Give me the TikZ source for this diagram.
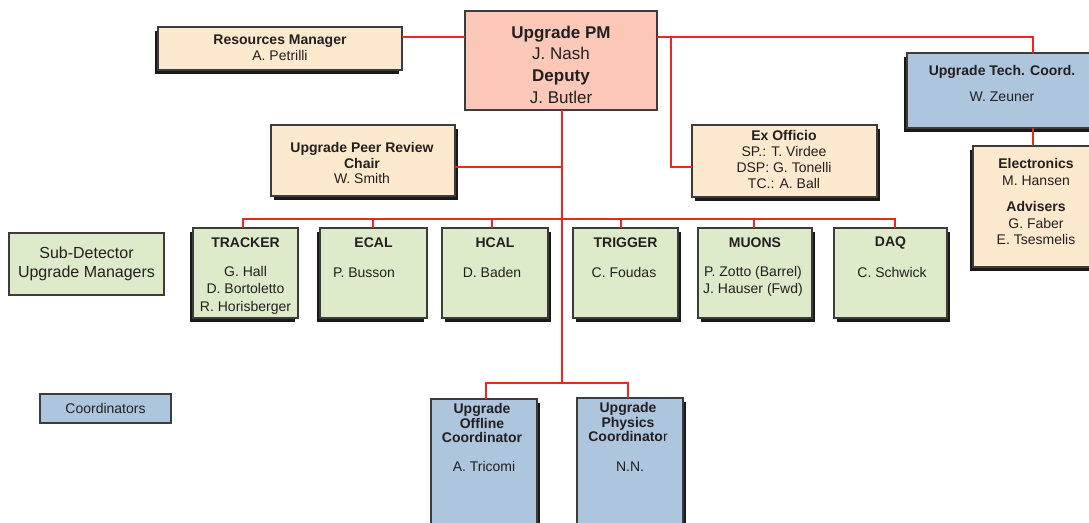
\documentclass[tikz,border=0pt]{standalone}
\usepackage{fontspec}
\setmainfont{Liberation Sans}
\usetikzlibrary{shadows}
\definecolor{pmfill}{RGB}{252,200,184}
\definecolor{peach}{RGB}{253,234,206}
\definecolor{blu}{RGB}{174,197,222}
\definecolor{grn}{RGB}{222,235,202}
\definecolor{lred}{RGB}{232,40,36}
\definecolor{bord}{RGB}{60,60,60}
\definecolor{txt}{RGB}{35,31,32}
\definecolor{shd}{RGB}{25,25,25}
\begin{document}
\begin{tikzpicture}[x=1pt,y=-1pt,
 box/.style={draw=bord, line width=1.1pt, inner sep=0pt, outer sep=0pt},
 shL/.style={drop shadow={shadow xshift=-3pt,shadow yshift=-4pt,opacity=1,fill=shd}},
 shR/.style={drop shadow={shadow xshift=3pt,shadow yshift=-4pt,opacity=1,fill=shd}},
 conn/.style={draw=lred, line width=1.6pt},
 tx/.style={text=txt, align=center, inner sep=0pt, font=\fontsize{14}{#1}\selectfont},
 tx/.default=16]
\path[use as bounding box] (0,0) rectangle (1089,522);
\clip (0,0) rectangle (1089,522);
\fill[white] (0,0) rectangle (1089,522);

% coordinates for connector junctions
\coordinate (bus) at (562,219);
\coordinate (bus2) at (562,383);
\coordinate (j1) at (671,37);

% boxes
\node[box, fill=peach, shL, minimum width=244pt, minimum height=43pt] (rm) at (280,48.5) {};
\node[box, fill=pmfill, line width=2.2pt, minimum width=192pt, minimum height=99pt] (pm) at (561,60.5) {};
\node[box, fill=blu, shL, minimum width=188pt, minimum height=75pt] (tc) at (1001,90.5) {};
\node[box, fill=peach, shL, minimum width=122pt, minimum height=121pt] (el) at (1034,206.5) {};
\node[box, fill=peach, shR, minimum width=184pt, minimum height=71pt] (pr) at (363,160.5) {};
\node[box, fill=peach, shR, minimum width=185pt, minimum height=72pt] (ex) at (784.5,161) {};
\node[box, fill=grn, minimum width=155pt, minimum height=62pt] (sd) at (86.5,264) {};
\node[box, fill=grn, shL, minimum width=105pt, minimum height=90pt] (trk) at (245.5,273) {};
\node[box, fill=grn, shL, minimum width=107pt, minimum height=90pt] (ecal) at (373.5,273) {};
\node[box, fill=grn, shR, minimum width=106pt, minimum height=90pt] (hcal) at (495,273) {};
\node[box, fill=grn, shR, minimum width=105pt, minimum height=90pt] (trig) at (625.5,273) {};
\node[box, fill=grn, shR, minimum width=114pt, minimum height=90pt] (muon) at (755,273) {};
\node[box, fill=grn, shR, minimum width=113pt, minimum height=90pt] (daq) at (890.5,273) {};
\node[box, fill=blu, minimum width=131pt, minimum height=29pt] (cl) at (105.5,408.5) {};
\node[box, fill=blu, shR, minimum width=106pt, minimum height=131pt] (off) at (484,464.5) {};
\node[box, fill=blu, shR, minimum width=106pt, minimum height=132pt] (phy) at (630,464) {};

% connectors
\draw[conn] (rm.east |- 0,37) -- (pm.west |- 0,37);
\draw[conn] (pm.east |- 0,37) -| (tc.north -| 1033,0);
\draw[conn] (j1) |- (ex.west |- 0,167);
\draw[conn] (tc.south -| 1033,0) -- (el.north -| 1033,0);
\draw[conn] (pm.south -| bus) -- (bus2);
\draw[conn] (pr.east |- 0,167) -- (bus |- 0,167);
\draw[conn] (trk.north -| 243,0) -- (243,219) -- (895,219) -- (daq.north -| 895,0);
\draw[conn] (ecal.north -| 373,0) -- (373,219);
\draw[conn] (hcal.north -| 492,0) -- (492,219);
\draw[conn] (trig.north -| 621,0) -- (621,219);
\draw[conn] (muon.north -| 754,0) -- (754,219);
\draw[conn] (off.north -| 486,0) -- (486,383) -- (628,383) -- (phy.north -| 628,0);

% texts
\node[tx=15.5] (rmt) at (280,48) {\textbf{Resources Manager}\\A. Petrilli};
\node[tx, font=\fontsize{17}{21.7}\selectfont] (pmt) at (561,64.5) {\textbf{Upgrade PM}\\J. Nash\\\textbf{Deputy}\\J. Butler};
\node[tx=26] (tct) at (1002,83) {\textbf{Upgrade Tech. Coord.}\\W. Zeuner};
\node[tx=17.5] (elt1) at (1036,172) {\textbf{Electronics}\\M. Hansen};
\node[tx=16.5] (elt2) at (1036,223) {\textbf{Advisers}\\G. Faber\\E. Tsesmelis};
\node[tx=15.5] (prt) at (362,163) {\textbf{Upgrade Peer Review}\\\textbf{Chair}\\W. Smith};
\node[tx=16] (ext) at (784,159) {\textbf{Ex Officio}\\SP.: T. Virdee\\DSP: G. Tonelli\\TC.: A. Ball};
\node[tx, font=\fontsize{16}{19}\selectfont] (sdt) at (86.5,264) {Sub-Detector\\Upgrade Managers};
\node[tx] (trkt) at (245.5,243) {\textbf{TRACKER}};
\node[tx=17.5] (trkn) at (245.5,290) {G. Hall\\D. Bortoletto\\R. Horisberger};
\node[tx] (ecalt) at (373.5,243) {\textbf{ECAL}};
\node[tx] (ecaln) at (364,272.5) {P. Busson};
\node[tx] (hcalt) at (495,243) {\textbf{HCAL}};
\node[tx] (hcaln) at (492,272.5) {D. Baden};
\node[tx] (trigt) at (625.5,243) {\textbf{TRIGGER}};
\node[tx] (trign) at (624,272.5) {C. Foudas};
\node[tx] (muont) at (755,243) {\textbf{MUONS}};
\node[tx=17] (muonn) at (753,281) {P. Zotto (Barrel)\\J. Hauser (Fwd)};
\node[tx] (daqt) at (890.5,243) {\textbf{DAQ}};
\node[tx] (daqn) at (892,272.5) {C. Schwick};
\node[tx] (clt) at (105.5,408.5) {Coordinators};
\node[tx=14.3] (offt) at (482,423) {\textbf{Upgrade}\\\textbf{Offline}\\\textbf{Coordinator}};
\node[tx] (offn) at (484,466.5) {A. Tricomi};
\node[tx=14.3] (phyt) at (628,422) {\textbf{Upgrade}\\\textbf{Physics}\\\textbf{Coordinato}r};
\node[tx] (phyn) at (630,466.5) {N.N.};
\end{tikzpicture}
\end{document}
